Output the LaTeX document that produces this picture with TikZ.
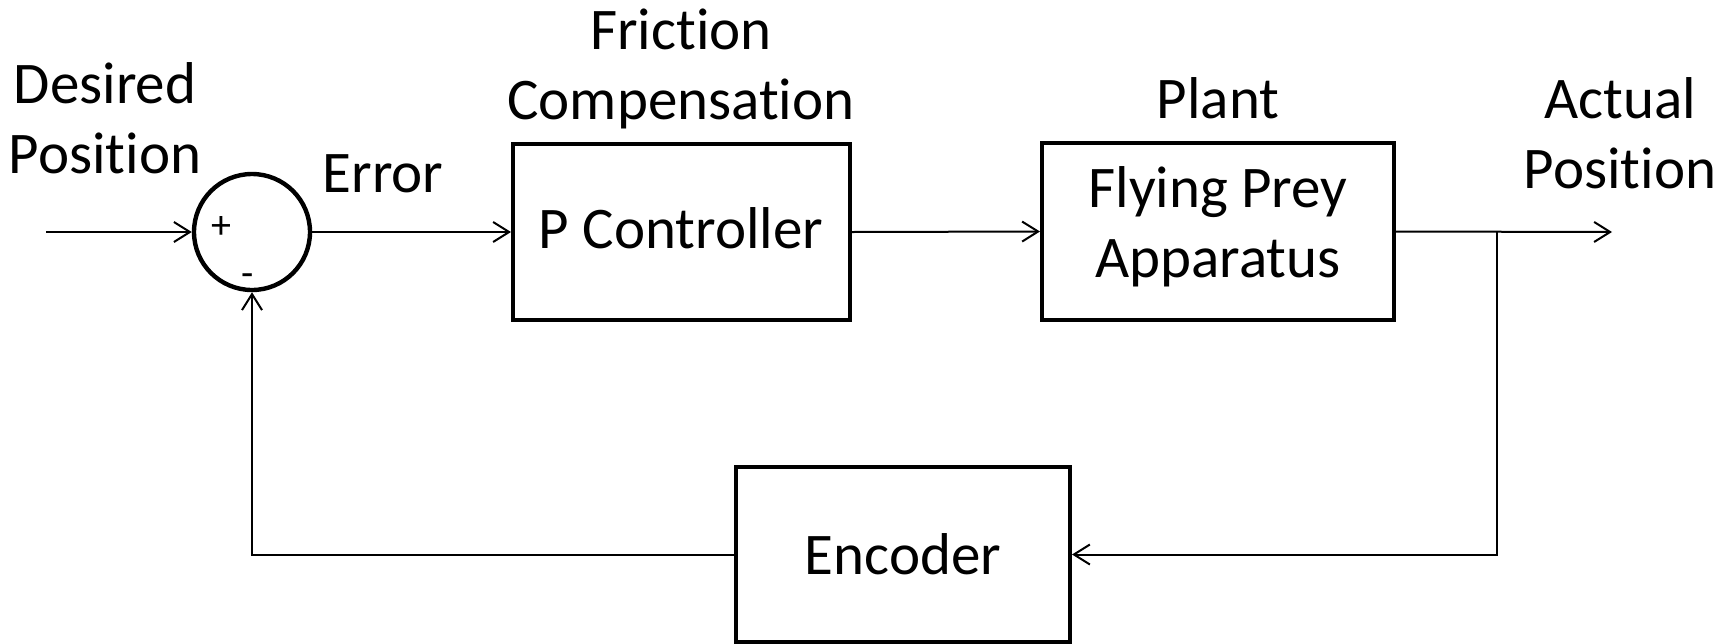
\documentclass[tikz,border=0pt]{standalone}
\usepackage{fontspec}
\setmainfont{Carlito}[Ligatures=NoCommon]
\usetikzlibrary{arrows.meta}
\begin{document}
\begin{tikzpicture}[x=0.5pt,y=-0.5pt,
  blk/.style={draw,line width=2pt,rectangle,inner sep=0pt},
  txt/.style={font=\fontsize{29.5}{35}\selectfont,inner sep=0pt,anchor=base,align=center},
  sgn/.style={font=\fontsize{20}{22}\selectfont,inner sep=0pt},
  conn/.style={line width=1pt,-{Straight Barb[length=8pt,width=10pt]}}]
\useasboundingbox (0,0) rectangle (1732,643);
% blocks
\node[blk,circle,line width=2.2pt,minimum size=58pt] (sum) at (252,232) {};
\node[blk,minimum width=168.5pt,minimum height=88pt] (pc) at (681.5,232) {};
\node[blk,minimum width=176pt,minimum height=88.5pt] (plant) at (1218,231.5) {};
\node[blk,minimum width=167pt,minimum height=87.5pt] (enc) at (903,554.5) {};
% texts (base anchor = baseline of the last line)
\node[txt] (tdes) at (105,173) {Desired\\Position};
\node[txt] (terr) at (383,192) {Error};
\node[txt] (tfric) at (681,119) {Friction\\Compensation};
\node[txt] (tpc) at (681,248) {P Controller};
\node[txt] (tplant) at (1218,118) {Plant};
\node[txt] (tfly) at (1218,277) {Flying Prey\\Apparatus};
\node[txt] (tact) at (1620,188) {Actual\\Position};
\node[txt] (tenc) at (903,574) {Encoder};
\node[sgn] (plus) at (221,227) {+};
\node[sgn] (minus) at (248,280) {-};
% connectors
\coordinate (in) at (46,232);
\coordinate (out) at (1612,232);
\coordinate (br) at (1497,232);
\draw[conn] (in) -- (sum.west);
\draw[conn] (sum.east) -- (pc.west);
\draw[conn] (pc.east) -- (plant.west);
\draw[conn] (plant.east) -- (out);
\draw[conn] (br) |- (enc.east);
\draw[conn] (enc.west) -| (sum.south);
\end{tikzpicture}
\end{document}
